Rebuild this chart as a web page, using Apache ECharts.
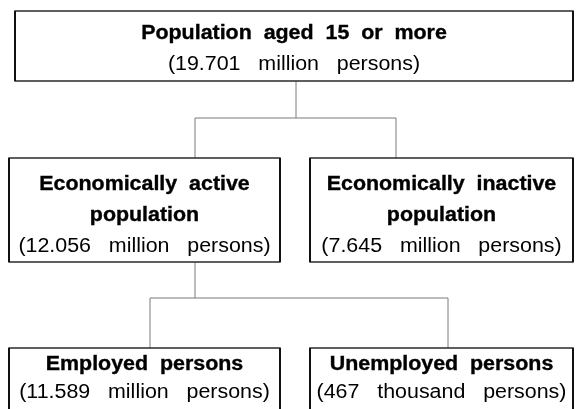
<!DOCTYPE html>
<html><head><meta charset="utf-8">
<script src="https://cdn.jsdelivr.net/npm/echarts@6/dist/echarts.min.js"></script>
<style>html,body{margin:0;padding:0;background:#fff}#c{width:576px;height:409px}</style>
</head><body><div id="c"></div>
<script>
// ---- data ----
const nodeTitles = [
  ['Population aged 15 or more'],
  ['Economically active', 'population'],
  ['Economically inactive', 'population'],
  ['Employed persons'],
  ['Unemployed persons']
];
const nodeValues = ['19.701', '12.056', '7.645', '11.589', '467'];
const nodeUnits = ['million persons', 'million persons', 'million persons', 'million persons', 'thousand persons'];
const nodeParents = [-1, 0, 0, 1, 1];

// ---- layout (pixels) ----
const boxes = [
  {x0: 15, y0: 11, x1: 573, y1: 81, rows: [33, 64]},
  {x0: 9, y0: 158, x1: 280, y1: 262, rows: [184, 215, 246]},
  {x0: 310, y0: 158, x1: 573, y1: 262, rows: [184, 215, 246]},
  {x0: 9, y0: 348, x1: 280, y1: 450, rows: [364, 392]},
  {x0: 310, y0: 348, x1: 573, y1: 450, rows: [364, 392]}
];
const connectors = [
  {stemX: 296, from: 81, busY: 118, xs: [195, 396], to: 158},
  {stemX: 195, from: 262, busY: 298, xs: [150, 448], to: 348}
];

function spaced(s, n) { return s.split(' ').join(' '.repeat(n)); }

const BOLD = 'bold 20px "Liberation Sans", Arial, sans-serif';
const REG = '20px "Liberation Sans", Arial, sans-serif';
const STRETCH = 1.07;

const boxData = boxes.map((b, i) => ({value: [b.x0, b.y0, b.x1, b.y1]}));

const lineData = [];
connectors.forEach(c => {
  lineData.push({coords: [[c.stemX, c.from], [c.stemX, c.busY]]});
  lineData.push({coords: [[c.xs[0], c.to], [c.xs[0], c.busY], [c.xs[1], c.busY], [c.xs[1], c.to]]});
});

const chart = echarts.init(document.getElementById('c'));
chart.setOption({
  animation: false,
  backgroundColor: '#fff',
  grid: {left: 0, right: 0, top: 0, bottom: 0},
  xAxis: {type: 'value', min: 0, max: 576, show: false},
  yAxis: {type: 'value', min: 0, max: 409, inverse: true, show: false},
  series: [
    {
      type: 'lines',
      coordinateSystem: 'cartesian2d',
      polyline: true,
      z: 1,
      silent: true,
      lineStyle: {color: '#7a7a7a', width: 1, opacity: 1},
      data: lineData
    },
    {
      type: 'custom',
      z: 2,
      clip: false,
      data: boxData,
      renderItem: function (params, api) {
        const i = params.dataIndex;
        const p0 = api.coord([api.value(0), api.value(1)]);
        const p1 = api.coord([api.value(2), api.value(3)]);
        const cx = (p0[0] + p1[0]) / 2;
        const children = [{
          type: 'rect',
          shape: {x: p0[0], y: p0[1], width: p1[0] - p0[0], height: p1[1] - p0[1]},
          style: {fill: '#fff', stroke: '#2a2a2a', lineWidth: 1.4}
        }, {
          type: 'line',
          shape: {x1: p0[0], y1: p0[1], x2: p0[0], y2: p1[1]},
          style: {stroke: '#111', lineWidth: 2}
        }, {
          type: 'line',
          shape: {x1: p1[0], y1: p0[1], x2: p1[0], y2: p1[1]},
          style: {stroke: '#111', lineWidth: 2}
        }];
        const texts = nodeTitles[i].map(t => ({text: spaced(t, 2), font: BOLD, bold: true}));
        texts.push({text: spaced('(' + nodeValues[i] + ' ' + nodeUnits[i] + ')', 3), font: REG, bold: false});
        texts.forEach((t, k) => {
          const y = api.coord([0, boxes[i].rows[k]])[1];
          const style = {text: t.text, x: 0, y: 0, textAlign: 'center', textVerticalAlign: 'middle', font: t.font, fill: '#000'};
          if (t.bold) { style.stroke = '#000'; style.lineWidth = 0.35; }
          children.push({type: 'text', x: cx, y: y, scaleX: STRETCH, scaleY: 1, style: style});
        });
        return {type: 'group', children: children};
      }
    }
  ]
});
</script>
</body></html>
